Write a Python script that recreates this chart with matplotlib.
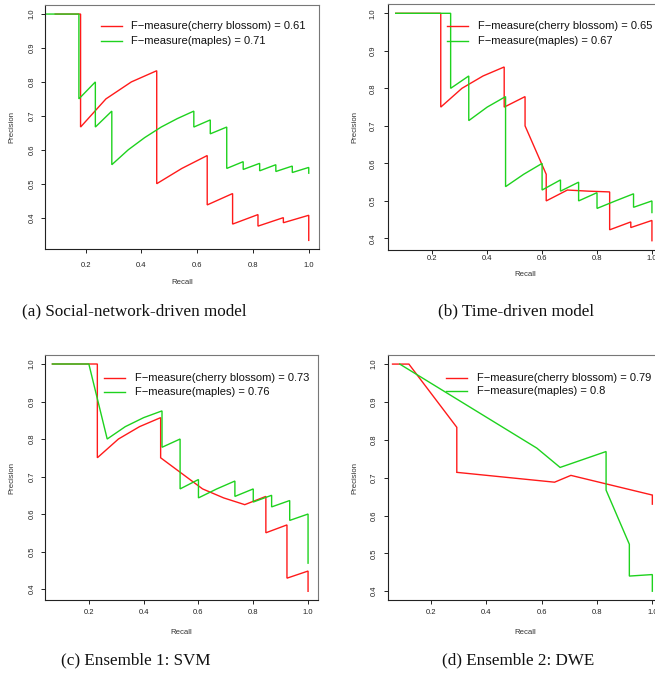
import matplotlib
matplotlib.use("Agg")
import matplotlib.pyplot as plt
from matplotlib.lines import Line2D

plt.rcParams['font.family'] = ['Liberation Sans', 'DejaVu Sans']

W, H = 655, 677

# ---------------- data (recall, precision) ----------------
# (a) Social-network-driven model
a_red_x = [0.091, 0.182, 0.182, 0.273, 0.364, 0.455, 0.455, 0.545, 0.636, 0.636, 0.727, 0.727, 0.818, 0.818, 0.909, 0.909, 1.0, 1.0]
a_red_y = [1.0, 1.0, 0.667, 0.75, 0.8, 0.833, 0.5, 0.545, 0.583, 0.4375, 0.471, 0.381, 0.409, 0.375, 0.4, 0.385, 0.407, 0.333]
a_grn_x = [0.059, 0.176, 0.176, 0.235, 0.235, 0.294, 0.294, 0.353, 0.412, 0.471, 0.529, 0.588, 0.588, 0.647, 0.647, 0.706, 0.706, 0.765, 0.765, 0.824, 0.824, 0.882, 0.882, 0.941, 0.941, 1.0, 1.0]
a_grn_y = [1.0, 1.0, 0.75, 0.8, 0.667, 0.714, 0.556, 0.6, 0.636, 0.667, 0.692, 0.714, 0.667, 0.688, 0.647, 0.667, 0.545, 0.565, 0.542, 0.56, 0.538, 0.556, 0.536, 0.552, 0.533, 0.548, 0.531]

# (b) Time-driven model
b_red_x = [0.067, 0.231, 0.231, 0.308, 0.385, 0.462, 0.462, 0.538, 0.538, 0.615, 0.615, 0.692, 0.769, 0.846, 0.846, 0.923, 0.923, 1.0, 1.0]
b_red_y = [1.0, 1.0, 0.75, 0.8, 0.833, 0.857, 0.75, 0.778, 0.7, 0.571, 0.5, 0.529, 0.526, 0.524, 0.423, 0.444, 0.429, 0.448, 0.394]
b_grn_x = [0.067, 0.267, 0.267, 0.333, 0.333, 0.4, 0.467, 0.467, 0.533, 0.6, 0.6, 0.667, 0.667, 0.733, 0.733, 0.8, 0.8, 0.867, 0.933, 0.933, 1.0, 1.0]
b_grn_y = [1.0, 1.0, 0.8, 0.833, 0.714, 0.75, 0.778, 0.538, 0.571, 0.6, 0.529, 0.556, 0.526, 0.55, 0.5, 0.522, 0.48, 0.5, 0.519, 0.483, 0.5, 0.469]

# (c) Ensemble 1: SVM
c_red_x = [0.067, 0.231, 0.231, 0.308, 0.385, 0.462, 0.462, 0.615, 0.692, 0.769, 0.846, 0.846, 0.923, 0.923, 1.0, 1.0]
c_red_y = [1.0, 1.0, 0.75, 0.8, 0.833, 0.857, 0.75, 0.667, 0.643, 0.625, 0.647, 0.55, 0.571, 0.429, 0.448, 0.394]
c_grn_x = [0.067, 0.2, 0.267, 0.333, 0.4, 0.467, 0.467, 0.533, 0.533, 0.6, 0.6, 0.667, 0.733, 0.733, 0.8, 0.8, 0.867, 0.867, 0.933, 0.933, 1.0, 1.0]
c_grn_y = [1.0, 1.0, 0.8, 0.833, 0.857, 0.875, 0.778, 0.8, 0.667, 0.692, 0.643, 0.667, 0.688, 0.647, 0.667, 0.632, 0.65, 0.619, 0.636, 0.583, 0.6, 0.469]

# (d) Ensemble 2: DWE
d_red_x = [0.062, 0.121, 0.294, 0.294, 0.647, 0.706, 1.0, 1.0]
d_red_y = [1.0, 1.0, 0.833, 0.714, 0.688, 0.706, 0.654, 0.63]
d_grn_x = [0.088, 0.583, 0.667, 0.833, 0.833, 0.917, 0.917, 1.0, 1.0]
d_grn_y = [1.0, 0.778, 0.727, 0.769, 0.667, 0.524, 0.44, 0.444, 0.4]

f_cherry = ["0.61", "0.65", "0.73", "0.79"]
f_maples = ["0.71", "0.67", "0.76", "0.8"]
captions = ["(a) Social-network-driven model", "(b) Time-driven model",
            "(c) Ensemble 1: SVM", "(d) Ensemble 2: DWE"]
x_ticks = [0.2, 0.4, 0.6, 0.8, 1.0]
y_ticks = [0.4, 0.5, 0.6, 0.7, 0.8, 0.9, 1.0]

RED = '#ff1a1a'
GRN = '#1ed21e'
LW = 1.0

fig = plt.figure(figsize=(W / 100, H / 100), dpi=100)

# panel geometry in pixels: left, top, right, bottom ; xlim ; ylim ; pads ; label positions
panels = [
    dict(rect=(45, 5, 318.9, 249.3), xlim=(0.0545, 1.0364), ylim=(0.3067, 1.0267),
         xpad=6.2, ypad=4.0, recall_y=283, prec_x=11.7, leg=(101, 121.7, 131, 26, 40.7),
         cap=(134.5, 311), red=(a_red_x, a_red_y), grn=(a_grn_x, a_grn_y)),
    dict(rect=(388.3, 4.3, 662.1, 249.7), xlim=(0.040, 1.037), ylim=(0.370, 1.024),
         xpad=0.8, ypad=5.5, recall_y=274, prec_x=355, leg=(447.3, 468.3, 477.7, 26, 40.7),
         cap=(516, 311), red=(b_red_x, b_red_y), grn=(b_grn_x, b_grn_y)),
    dict(rect=(45, 355, 318.2, 600.3), xlim=(0.040, 1.037), ylim=(0.370, 1.024),
         xpad=3.6, ypad=4.0, recall_y=632.3, prec_x=11.7, leg=(104.3, 125, 135, 378.3, 391.7),
         cap=(136, 660), red=(c_red_x, c_red_y), grn=(c_grn_x, c_grn_y)),
    dict(rect=(388.3, 355, 662.5, 600.3), xlim=(0.0467, 1.0367), ylim=(0.376, 1.024),
         xpad=3.6, ypad=5.0, recall_y=632.3, prec_x=355, leg=(446, 466.7, 476.7, 377.7, 390.7),
         cap=(518, 660), red=(d_red_x, d_red_y), grn=(d_grn_x, d_grn_y)),
]


def fx(x):
    return x / W


def fy(y):
    return 1 - y / H


for i, p in enumerate(panels):
    l, t, r, b = p['rect']
    ax = fig.add_axes([fx(l), fy(b), (r - l) / W, (b - t) / H])
    ax.plot(p['red'][0], p['red'][1], color=RED, lw=LW, solid_joinstyle='miter')
    ax.plot(p['grn'][0], p['grn'][1], color=GRN, lw=LW, solid_joinstyle='miter')
    ax.set_xlim(*p['xlim'])
    ax.set_ylim(*p['ylim'])
    ax.set_xticks(x_ticks)
    ax.set_xticklabels([f"{v:.1f}" for v in x_ticks])
    ax.set_yticks(y_ticks)
    ax.set_yticklabels([f"{v:.1f}" for v in y_ticks])
    ax.tick_params(axis='both', direction='out', length=2.9, width=0.7,
                   labelsize=5.5, labelcolor='#222222', color='#222222')
    ax.tick_params(axis='x', pad=p['xpad'])
    ax.tick_params(axis='y', pad=p['ypad'])
    for lab in ax.get_yticklabels():
        lab.set_rotation(90)
        lab.set_va('center')
    for side in ['left', 'bottom']:
        ax.spines[side].set_color('#222222')
        ax.spines[side].set_linewidth(0.8)
    for side in ['top', 'right']:
        ax.spines[side].set_color('#777777')
        ax.spines[side].set_linewidth(0.8)
    wpx = r - l
    hpx = b - t
    ax.set_xlabel('Recall', fontsize=5.6, color='#333333', va='center')
    ax.xaxis.set_label_coords(0.5, -(p['recall_y'] - b) / hpx)
    ax.set_ylabel('Precision', fontsize=5.6, color='#333333', va='center')
    ax.yaxis.set_label_coords(-(l - p['prec_x']) / wpx, 0.5)

    # legend (R style, no frame)
    x0, x1, xt, y1, y2 = p['leg']
    for yy, col, txt in [(y1, RED, f"F\u2212measure(cherry blossom) = {f_cherry[i]}"),
                         (y2, GRN, f"F\u2212measure(maples) = {f_maples[i]}")]:
        fig.add_artist(Line2D([fx(x0), fx(x1)], [fy(yy), fy(yy)], color=col, lw=LW))
        fig.text(fx(xt), fy(yy), txt, fontsize=8.0, va='center', ha='left', color='#111111')

    cx, cy = p['cap']
    fig.text(fx(cx), fy(cy), captions[i], fontsize=12.3, ha='center', va='center',
             family=['Liberation Serif', 'DejaVu Serif'], color='#111111')

fig.savefig('out.png', dpi=100)
